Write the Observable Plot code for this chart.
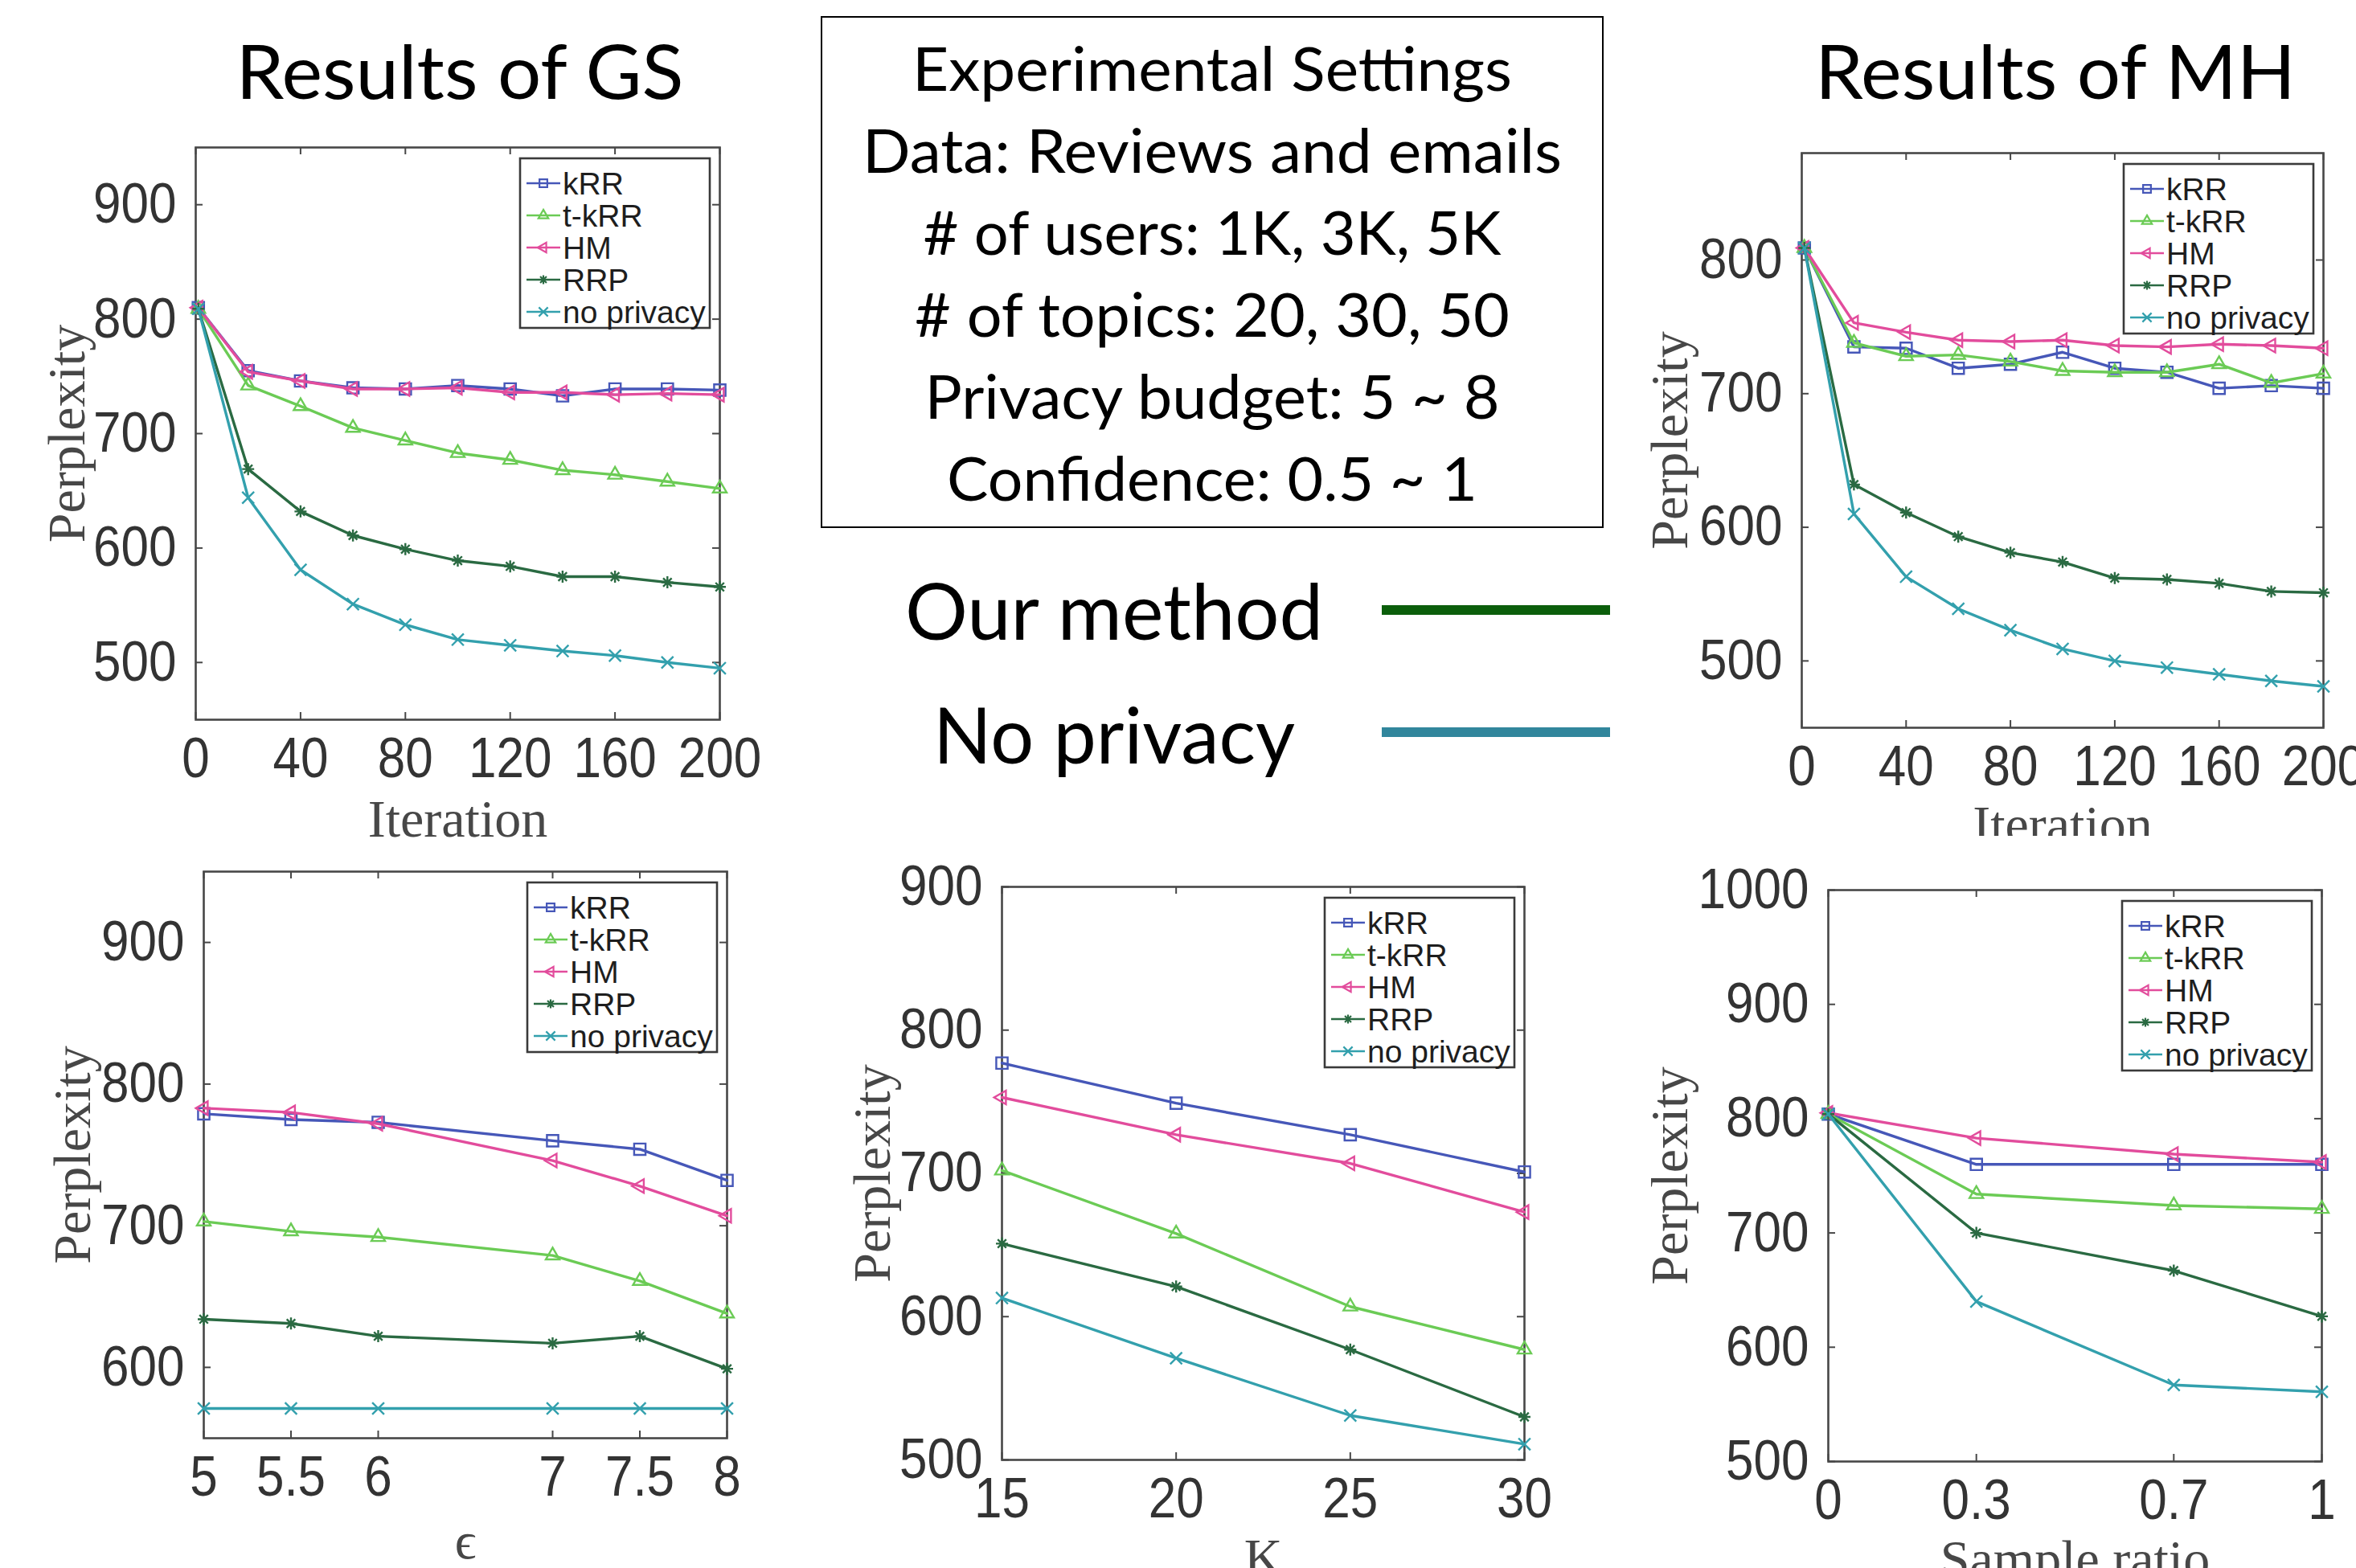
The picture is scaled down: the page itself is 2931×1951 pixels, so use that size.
<!DOCTYPE html>
<html>
<head>
<meta charset="utf-8">
<script src="https://cdn.jsdelivr.net/npm/d3@7"></script>
<script src="https://cdn.jsdelivr.net/npm/@observablehq/plot@0.6"></script>
<style>
  html, body { margin: 0; padding: 0; background: #fff; }
  body { width: 2931px; height: 1951px; position: relative; overflow: hidden; }
  .panel { position: absolute; overflow: hidden; }
  #overlay { position: absolute; left: 0; top: 0; }
</style>
</head>
<body>
<script>
// ---------------- DATA ----------------
const seriesNames = ["kRR", "t-kRR", "HM", "RRP", "no privacy"];
const seriesColors = ["#4657b8", "#6bcb55", "#e24c9c", "#2a6a42", "#33a0ad"];

// Results of GS (Iteration)
const gsIter = [1, 20, 40, 60, 80, 100, 120, 140, 160, 180, 200];
const gsKRR = [810, 755, 746, 740, 739, 742, 739, 733, 739, 739, 738];
const gsTKRR = [809, 742, 724, 705, 694, 683, 677, 668, 664, 658, 652];
const gsHM = [810, 754, 746, 739, 739, 740, 736, 736, 734, 735, 734];
const gsRRP = [809, 669, 632, 611, 599, 589, 584, 575, 575, 570, 566];
const gsNoPriv = [809, 644, 581, 551, 533, 520, 515, 510, 506, 500, 495];

// Results of MH (Iteration)
const mhIter = [1, 20, 40, 60, 80, 100, 120, 140, 160, 180, 200];
const mhKRR = [809, 735, 734, 719, 722, 731, 719, 716, 704, 706, 704];
const mhTKRR = [809, 738, 728, 729, 724, 717, 716, 716, 722, 708, 715];
const mhHM = [809, 753, 746, 740, 739, 740, 736, 735, 737, 736, 734];
const mhRRP = [809, 632, 611, 593, 581, 574, 562, 561, 558, 552, 551];
const mhNoPriv = [809, 610, 563, 539, 523, 509, 500, 495, 490, 485, 481];

// Privacy budget epsilon
const epsValues = [5, 5.5, 6, 7, 7.5, 8];
const epsKRR = [779, 775, 773, 760, 754, 732];
const epsTKRR = [703, 696, 692, 679, 661, 638];
const epsHM = [783, 780, 772, 746, 728, 707];
const epsRRP = [634, 631, 622, 617, 622, 599];
const epsNoPriv = [571, 571, 571, 571, 571, 571];

// Number of topics K
const kValues = [15, 20, 25, 30];
const kKRR = [777, 749, 727, 701];
const kTKRR = [702, 658, 607, 577];
const kHM = [753, 727, 707, 673];
const kRRP = [651, 621, 577, 530];
const kNoPriv = [613, 571, 531, 511];

// Sample ratio
const ratioValues = [0, 0.3, 0.7, 1];
const srKRR = [804, 760, 760, 760];
const srTKRR = [804, 734, 724, 721];
const srHM = [805, 783, 769, 762];
const srRRP = [804, 700, 667, 627];
const srNoPriv = [804, 640, 567, 561];

// Tick labels
const iterTicks = [0, 40, 80, 120, 160, 200];
const epsTicks = [5, 5.5, 6, 7, 7.5, 8];
const kTicks = [15, 20, 25, 30];
const ratioTicks = [0, 0.3, 0.7, 1];
const yTicksGS = [500, 600, 700, 800, 900];
const yTicksMH = [500, 600, 700, 800];
const yTicksEps = [600, 700, 800, 900];
const yTicksK = [500, 600, 700, 800, 900];
const yTicksRatio = [500, 600, 700, 800, 900, 1000];

// Text blocks
const titles = ["Results of GS", "Results of MH"];
const settingsLines = [
  "Experimental Settings",
  "Data: Reviews and emails",
  "# of users: 1K, 3K, 5K",
  "# of topics: 20, 30, 50",
  "Privacy budget: 5 ~ 8",
  "Confidence: 0.5 ~ 1"
];
const methodLabels = ["Our method", "No privacy"];
const methodColors = ["#0b5e0b", "#31869c"];

// ---------------- SYMBOLS ----------------
const symbolTriLeft = {
  draw(context, size) {
    const y = -Math.sqrt(size / (Math.sqrt(3) * 3));
    context.moveTo(y * 2, 0);
    context.lineTo(-y, -Math.sqrt(3) * y);
    context.lineTo(-y, Math.sqrt(3) * y);
    context.closePath();
  }
};
const symbolStar8 = {
  draw(context, size) {
    const r = Math.sqrt(size / Math.PI);
    const d = r * Math.SQRT1_2;
    context.moveTo(-r, 0); context.lineTo(r, 0);
    context.moveTo(0, -r); context.lineTo(0, r);
    context.moveTo(-d, -d); context.lineTo(d, d);
    context.moveTo(-d, d); context.lineTo(d, -d);
  }
};
const seriesSymbols = [d3.symbolSquare, d3.symbolTriangle, symbolTriLeft, symbolStar8, d3.symbolTimes];
const seriesRadii = [8, 6.3, 6.3, 7.5, 6.8];
const legendRadii = [5.5, 4.6, 4.6, 5.6, 5.2];

// ---------------- PANELS ----------------
const ML = 220, MR = 80, MT = 70, MB = 160;
const frameColor = "#474747";
const tickColor = "#333";
const tickFont = "Liberation Sans, Arial, sans-serif";
const serif = "Liberation Serif, DejaVu Serif, Times New Roman, serif";

function panel(cfg) {
  const W = cfg.fw + ML + MR, H = cfg.fh + MT + MB;
  const marks = [
    Plot.frame({stroke: frameColor, strokeWidth: 2.6}),
    Plot.tickY(cfg.yTicks, {y: d => d, stroke: frameColor, strokeWidth: 2, insetRight: cfg.fw - 9}),
    Plot.tickY(cfg.yTicks, {y: d => d, stroke: frameColor, strokeWidth: 2, insetLeft: cfg.fw - 9}),
    Plot.tickX(cfg.xTicks, {x: d => d, stroke: frameColor, strokeWidth: 2, insetTop: cfg.fh - 9}),
    Plot.tickX(cfg.xTicks, {x: d => d, stroke: frameColor, strokeWidth: 2, insetBottom: cfg.fh - 9}),
    Plot.axisX(cfg.xTicks, {tickSize: 0, tickPadding: 22, label: null, fontSize: 62,
      fontFamily: tickFont, fill: tickColor, tickFormat: d => String(d)}),
    Plot.axisY(cfg.yTicks, {tickSize: 0, tickPadding: 24, label: null, fontSize: 62,
      fontFamily: tickFont, fill: tickColor, tickFormat: d => String(d)}),
    Plot.text(["Perplexity"], {text: d => d, frameAnchor: "left", textAnchor: "middle", lineAnchor: "middle",
      rotate: -90, dx: -cfg.yLabelDx, fontSize: 66, fontFamily: serif, fill: "#474747"}),
    Plot.text([cfg.xLabel], {text: d => d, frameAnchor: "bottom", textAnchor: "middle", lineAnchor: "middle",
      dy: cfg.xLabelDy, fontSize: 66, fontFamily: serif, fill: "#474747"})
  ];
  cfg.series.forEach((ys, i) => {
    const rows = cfg.xs.map((x, j) => ({x, y: ys[j]}));
    marks.push(Plot.line(rows, {x: "x", y: "y", stroke: seriesColors[i], strokeWidth: 3.4}));
    marks.push(Plot.dot(rows, {x: "x", y: "y", symbol: seriesSymbols[i], r: seriesRadii[i],
      stroke: seriesColors[i], strokeWidth: 2.4, fill: "none"}));
  });
  const svg = Plot.plot({
    width: W, height: H,
    marginLeft: ML, marginRight: MR, marginTop: MT, marginBottom: MB,
    style: {background: "transparent", overflow: "visible", fontFamily: tickFont},
    x: {domain: cfg.xDomain},
    y: {domain: cfg.yDomain},
    marks
  });
  // legend box inside the frame (top right)
  const g = d3.select(svg).append("g").attr("text-anchor", "start");
  const bw = 236, bh = 211;
  const bx = ML + cfg.fw - 12 - bw, by = MT + 14;
  g.append("rect").attr("x", bx).attr("y", by).attr("width", bw).attr("height", bh)
    .attr("fill", "#fff").attr("stroke", "#3a3a3a").attr("stroke-width", 2.6);
  seriesNames.forEach((name, i) => {
    const cy = by + 31 + 40 * i;
    g.append("line").attr("x1", bx + 8).attr("x2", bx + 50).attr("y1", cy).attr("y2", cy)
      .attr("stroke", seriesColors[i]).attr("stroke-width", 2.6);
    g.append("path").attr("transform", `translate(${bx + 29},${cy})`)
      .attr("d", d3.symbol(seriesSymbols[i], Math.PI * legendRadii[i] * legendRadii[i])())
      .attr("fill", "none").attr("stroke", seriesColors[i]).attr("stroke-width", 2.2);
    g.append("text").attr("x", bx + 53).attr("y", cy).attr("dy", "0.36em")
      .attr("text-anchor", "start")
      .attr("font-size", 39).attr("font-family", tickFont)
      .attr("fill", "#1e1e1e").text(name);
  });
  const div = document.createElement("div");
  div.className = "panel";
  div.style.left = (cfg.fx - ML) + "px";
  div.style.top = (cfg.fy - MT) + "px";
  div.style.width = W + "px";
  div.style.height = (cfg.clipBottom ? cfg.clipBottom - (cfg.fy - MT) : H) + "px";
  div.appendChild(svg);
  document.body.appendChild(div);
  // tick labels in the reference are slightly stretched vertically
  d3.select(svg).selectAll('g[aria-label$="tick label"] text').each(function () {
    const w = this.getComputedTextLength();
    d3.select(this).attr("font-size", 70).attr("textLength", w).attr("lengthAdjust", "spacingAndGlyphs");
  });
}

// ---------------- OVERLAY TEXT ----------------
const ov = d3.select(document.body).append("svg").attr("id", "overlay")
  .attr("width", 2931).attr("height", 1951);
const sans = "Lato, Open Sans, sans-serif";
[[572, 557], [2557, 598]].forEach(([cx, len], i) => {
  ov.append("text").attr("x", cx).attr("y", 123).attr("text-anchor", "middle")
    .attr("font-family", sans).attr("font-size", 94).attr("fill", "#000")
    .attr("textLength", len).attr("lengthAdjust", "spacingAndGlyphs").text(titles[i]);
});
ov.append("rect").attr("x", 1022).attr("y", 21).attr("width", 972).attr("height", 635)
  .attr("fill", "none").attr("stroke", "#000").attr("stroke-width", 2);
const settingsWidths = [746, 870, 719, 740, 715, 660];
settingsLines.forEach((t, i) => {
  ov.append("text").attr("x", 1508).attr("y", 113 + 102 * i).attr("text-anchor", "middle")
    .attr("font-family", sans).attr("font-size", 76).attr("fill", "#000")
    .attr("textLength", settingsWidths[i]).attr("lengthAdjust", "spacingAndGlyphs").text(t);
});
const methodText = [[1126, 796, 520], [1161, 950, 450]];
const methodLineY = [759, 911];
methodLabels.forEach((t, i) => {
  const [x, y, len] = methodText[i];
  ov.append("text").attr("x", x).attr("y", y)
    .attr("font-family", sans).attr("font-size", 96).attr("fill", "#000")
    .attr("textLength", len).attr("lengthAdjust", "spacingAndGlyphs").text(t);
  ov.append("line").attr("x1", 1719).attr("x2", 2003).attr("y1", methodLineY[i]).attr("y2", methodLineY[i])
    .attr("stroke", methodColors[i]).attr("stroke-width", 12);
});

// ---------------- DRAW PANELS ----------------
panel({fx: 243, fy: 183, fw: 652, fh: 712, xDomain: [0, 200], yDomain: [450, 950],
  xs: gsIter, series: [gsKRR, gsTKRR, gsHM, gsRRP, gsNoPriv],
  xTicks: iterTicks, yTicks: yTicksGS, xLabel: "Iteration", xLabelDy: 124, yLabelDx: 160});
panel({fx: 2241, fy: 190, fw: 649, fh: 715, xDomain: [0, 200], yDomain: [450, 880],
  xs: mhIter, series: [mhKRR, mhTKRR, mhHM, mhRRP, mhNoPriv],
  xTicks: iterTicks, yTicks: yTicksMH, xLabel: "Iteration", xLabelDy: 121, yLabelDx: 164, clipBottom: 1040});
panel({fx: 253, fy: 1084, fw: 651, fh: 705, xDomain: [5, 8], yDomain: [550, 950],
  xs: epsValues, series: [epsKRR, epsTKRR, epsHM, epsRRP, epsNoPriv],
  xTicks: epsTicks, yTicks: yTicksEps, xLabel: "\u03F5", xLabelDy: 128, yLabelDx: 163});
panel({fx: 1246, fy: 1103, fw: 650, fh: 713, xDomain: [15, 30], yDomain: [500, 900],
  xs: kValues, series: [kKRR, kTKRR, kHM, kRRP, kNoPriv],
  xTicks: kTicks, yTicks: yTicksK, xLabel: "K", xLabelDy: 122, yLabelDx: 161});
panel({fx: 2274, fy: 1107, fw: 614, fh: 711, xDomain: [0, 1], yDomain: [500, 1000],
  xs: ratioValues, series: [srKRR, srTKRR, srHM, srRRP, srNoPriv],
  xTicks: ratioTicks, yTicks: yTicksRatio, xLabel: "Sample ratio", xLabelDy: 122, yLabelDx: 197});
</script>
</body>
</html>
